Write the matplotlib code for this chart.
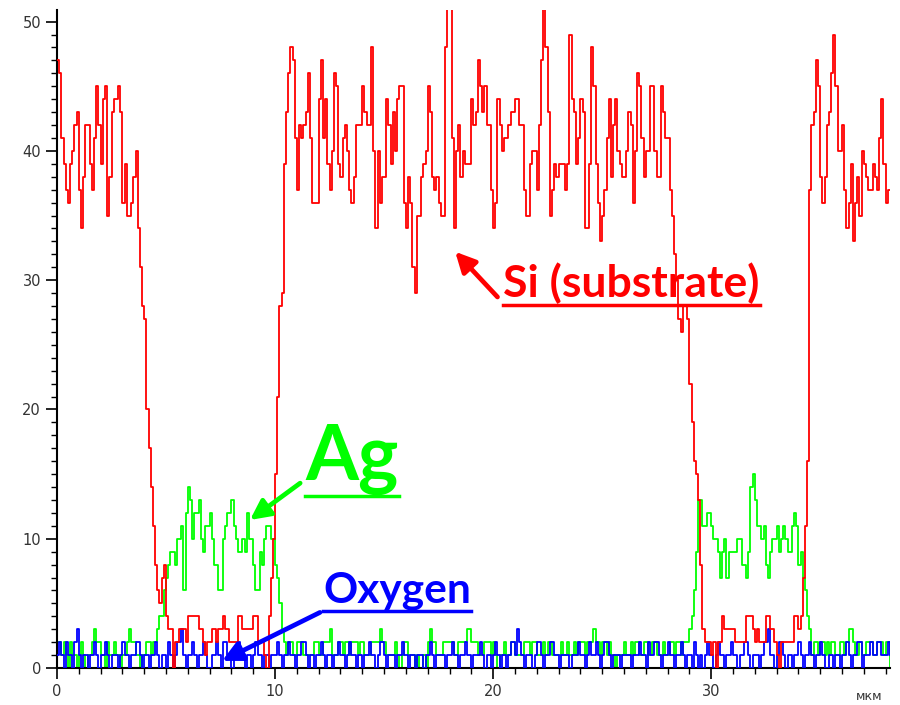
import numpy as np
import matplotlib
matplotlib.use('Agg')
import matplotlib.pyplot as plt
from matplotlib.lines import Line2D
from matplotlib.ticker import MultipleLocator

# depth step of the line scan, um
step = 0.1

# Si (substrate) signal, counts
si_vals = [
    47, 46, 41, 39, 37, 36, 39, 40, 42, 43, 37, 34, 38, 42, 42, 39, 37, 41, 45, 42,
    39, 44, 45, 35, 38, 43, 44, 44, 45, 43, 36, 39, 35, 35, 36, 38, 40, 34, 31, 28,
    27,
    20, 17, 14, 11, 8, 6, 5, 7, 8, 4, 3, 3, 0, 2, 2, 3, 3, 3, 2, 4,
    4, 4, 4, 4, 3, 3, 2, 1, 2, 2, 3, 3, 2, 3, 3, 4, 3, 3, 2, 2,
    2, 2, 4, 4, 3, 3, 3, 3, 3, 4, 4, 2, 2, 2, 1, 0, 4, 7, 10, 15,
    21,
    28, 29, 39, 43, 46, 48, 47, 41, 37, 42, 41, 42, 43, 46, 41, 36, 36, 36, 44, 47,
    41, 44, 39, 37, 40, 46, 45, 39, 38, 41, 42, 40, 37, 36, 38, 42, 42, 42, 45, 43,
    42, 42, 48, 40, 34, 40, 36, 38, 38, 44, 42, 39, 43, 40, 44, 45, 45, 36, 34, 38,
    36, 31, 29, 35, 35, 38, 39, 40, 45, 43, 38, 37, 38, 36, 35, 35, 48, 51, 51, 41,
    34, 40, 42, 38, 40, 39, 39, 39, 44, 42, 43, 47, 45, 43, 45, 42,
    42, 37, 34, 36, 44, 42, 40, 41, 41, 42, 43, 43, 44, 44, 42, 42, 37, 35, 35, 39,
    40, 40, 37, 42, 47, 51, 48, 43, 35, 37, 39, 38, 39, 39, 39, 37, 39, 49, 44, 43,
    39, 41, 44, 43, 34, 34, 39, 48, 45, 39, 36, 33, 35, 37, 41, 44, 38, 42, 44, 40,
    39, 38, 38, 40, 43, 42, 36, 40, 46, 45, 41, 38, 40, 40, 45, 45, 40, 38, 38, 45,
    43, 41, 41, 37, 35, 32, 30, 27,
    26, 28, 28, 27, 22, 19, 16, 15, 13, 8, 3,
    2, 2, 2, 1, 2, 0, 2, 2, 4, 3, 3, 3, 3, 3, 2, 2, 2, 2, 2, 4,
    4, 4, 3, 2, 3, 2, 2, 2, 4, 4, 3, 3, 2, 1, 0, 2, 2, 2, 2, 2,
    2, 4, 4, 3, 4,
    7, 11, 16, 37, 42, 43, 47, 45, 38, 36, 38, 42, 43, 46, 49, 45, 40, 40, 42, 37,
    34, 36, 39, 33, 36, 38, 35, 40, 39, 38, 37, 37, 39, 38, 37, 41, 44, 39, 36, 37,
    37,
]

# Ag signal, counts
ag_vals = [
    2, 2, 1, 2, 1, 0, 2, 1, 1, 0, 1, 2, 1, 0, 1, 1, 2, 3, 2, 2,
    1, 1, 0, 2, 1, 1, 2, 1, 1, 0, 1, 1, 2, 3, 2, 2, 1, 1, 0, 1,
    1, 2, 2, 1, 2, 2, 3,
    4, 4, 6, 7, 8, 9, 9, 8, 10, 10, 11, 6, 12, 14, 13, 10, 12, 12, 13, 10,
    9, 11, 11, 12, 10, 8, 8, 6, 6, 10, 11, 12, 12, 13, 11, 10, 9, 9, 10, 9,
    12, 10, 10, 8, 6, 6, 9, 8, 10, 11, 11, 10, 10, 8, 7, 5, 3, 2, 1, 2,
    2,
    1, 1, 2, 2, 2, 1, 1, 1, 1, 1, 2, 2, 1, 1, 2, 2, 2, 3, 1, 1,
    1, 2, 2, 1, 2, 2, 1, 2, 2, 2, 1, 2, 2, 1, 1, 1, 2, 2, 2, 2,
    3, 2, 2, 1, 1, 1, 1, 2, 1, 0, 1, 2, 2, 1, 1, 1, 0, 1, 0, 0,
    1, 0, 2, 3, 2, 2, 1, 1, 1, 2, 2, 2, 2, 2, 1, 1, 2, 2, 2, 2,
    3, 3, 2, 2, 2, 1, 1, 1, 2, 2, 2,
    1, 2, 1, 0, 1, 1, 2, 1, 1, 2, 2, 1, 1, 1, 1, 2, 2, 2, 1, 2,
    2, 1, 1, 1, 2, 1, 2, 2, 1, 1, 1, 1, 2, 1, 1, 2, 1, 1, 2, 1,
    2, 2, 2, 1, 2, 2, 2, 3, 2, 2, 1, 2, 2, 1, 2, 1, 1, 0, 1, 1,
    1, 2, 1, 1, 2, 1, 2, 2, 1, 1, 2, 2, 1, 1, 2, 2, 1, 1, 1, 2,
    1, 1, 2, 2, 1, 2, 2, 1, 2, 2,
    2, 3, 4, 6, 9, 13, 13, 11, 11, 12, 12, 11, 10, 10, 9, 7, 9, 10, 7, 9,
    9, 9, 9, 10, 10, 8, 8, 7, 9, 14, 15, 13, 11, 11, 10, 11, 8, 7, 9, 10,
    10, 11, 9, 10, 11, 10, 9, 9, 11, 12, 11, 8, 9, 7, 6, 4, 3, 1, 2,
    2, 1, 2, 2, 1, 2, 1, 2, 2, 1, 1, 2, 2, 1, 2, 3, 3, 2, 1, 1,
    2, 1, 1, 2, 2, 2, 1, 1, 2, 2, 2, 1, 2, 2, 0,
]

# Oxygen signal, counts
o_vals = [
    1, 2, 1, 0, 2, 1, 1, 0, 2, 3, 1, 0, 1, 1, 0, 1, 1, 2, 1, 0,
    1, 1, 2, 1, 0, 1, 1, 1, 0, 1, 2, 1, 1, 0, 1, 1, 2, 2, 1, 0,
    1, 1, 0, 1, 1, 2, 1, 0, 1, 1, 0, 2, 1, 0, 1, 2, 2, 3, 1, 0,
    1, 1, 2, 1, 0, 1, 1, 2, 1, 0, 0, 1, 1, 2, 1, 0, 2, 2, 1, 1,
    0, 1, 1, 2, 1, 1, 0, 1, 1, 0, 1, 2, 1, 1, 0, 1, 1, 0, 1, 1,
    1, 2, 1, 0, 1, 1, 2, 1, 1, 0, 1, 1, 2, 2, 1, 0, 1, 1, 0, 1,
    1, 2, 1, 0, 1, 1, 0, 1, 1, 2, 1, 1, 0, 1, 2, 1, 1, 0, 1, 1,
    0, 1, 1, 2, 1, 1, 0, 1, 2, 2, 1, 0, 1, 1, 1, 0, 1, 1, 2, 1,
    1, 0, 1, 1, 0, 1, 1, 1, 0, 1, 1, 2, 1, 0, 1, 1, 1, 1, 0, 1,
    1, 2, 1, 1, 0, 1, 1, 2, 1, 1, 0, 1, 1, 1, 2, 1, 0, 1, 1, 0,
    1, 2, 1, 0, 1, 1, 0, 1, 2, 2, 1, 3, 2, 1, 0, 1, 1, 1, 0, 1,
    2, 2, 1, 0, 1, 1, 2, 2, 1, 1, 0, 1, 1, 1, 1, 0, 1, 1, 1, 2,
    1, 1, 0, 1, 2, 1, 1, 2, 1, 0, 1, 2, 2, 1, 0, 1, 1, 1, 0, 1,
    1, 1, 1, 0, 1, 1, 1, 2, 1, 1, 0, 2, 1, 1, 2, 2, 1, 0, 1, 1,
    2, 1, 1, 0, 1, 1, 2, 1, 0, 1, 1, 0, 2, 1, 0, 1, 0, 1, 2, 1,
    1, 0, 1, 2, 1, 1, 0, 1, 1, 2, 1, 1, 0, 1, 1, 2, 2, 1, 0, 1,
    1, 1, 0, 1, 2, 2, 3, 1, 1, 0, 1, 2, 2, 1, 0, 1, 1, 0, 1, 1,
    2, 1, 0, 1, 1, 2, 1, 0, 1, 1, 2, 1, 0, 0, 1, 1, 0, 1, 1, 0,
    1, 1, 2, 1, 0, 1, 1, 2, 2, 0, 1, 1, 1, 2, 1, 1, 2, 2, 1, 1,
    1, 2, 1,
]

y_ticks = [0, 10, 20, 30, 40, 50]
x_ticks = [0, 10, 20, 30]

RED = '#ff0000'
GREEN = '#00ff00'
BLUE = '#0000ff'

fig = plt.figure(figsize=(9, 7.05), dpi=100)
ax = fig.add_axes([57 / 900, 37 / 705, 833 / 900, 658 / 705])

def depth(vals):
    return np.arange(len(vals)) * step

ax.step(depth(ag_vals), ag_vals, where='post', color=GREEN, lw=1.3, zorder=2)
ax.step(depth(o_vals), o_vals, where='post', color=BLUE, lw=1.3, zorder=3)
ax.step(depth(si_vals), si_vals, where='post', color=RED, lw=1.3, zorder=4)

ax.set_xlim(0, 38.2)
ax.set_ylim(0, 50.9)
ax.spines['top'].set_visible(False)
ax.spines['right'].set_visible(False)
for s in ('left', 'bottom'):
    ax.spines[s].set_linewidth(1.5)
    ax.spines[s].set_color('black')

ax.set_xticks(x_ticks)
ax.set_yticks(y_ticks)
ax.xaxis.set_minor_locator(MultipleLocator(1))
ax.yaxis.set_minor_locator(MultipleLocator(1))
ax.tick_params(which='major', length=8, width=1.2, colors='black', labelsize=10.5,
               labelcolor='#333333')
ax.tick_params(which='minor', length=4, width=1.0, colors='black')
for lab in ax.get_xticklabels() + ax.get_yticklabels():
    lab.set_fontfamily('DejaVu Sans')

# axis unit at the lower right corner
fig.text(869 / 900, 2 / 705, 'мкм', ha='center', va='bottom', fontsize=9,
         family='DejaVu Sans', color='#333333')

# labels with arrows
labels = [
    ('Si (substrate)', RED, 32, (20.46, 28.7), (20.2, 28.7), (18.26, 32.2)),
    ('Ag', GREEN, 55, (11.38, 14.55), (11.15, 14.3), (8.85, 11.45)),
    ('Oxygen', BLUE, 30.5, (12.2, 5.05), (12.06, 4.3), (7.57, 0.55)),
]
texts = []
for txt, col, size, pos, tail, tip in labels:
    t = ax.text(pos[0], pos[1], txt, color=col, fontsize=size, fontweight='bold',
                family='Lato', ha='left', va='baseline', zorder=6)
    ax.annotate('', xy=tip, xytext=tail,
                arrowprops=dict(arrowstyle='-|>', color=col, lw=3.4,
                                mutation_scale=30, shrinkA=0, shrinkB=0),
                zorder=6)
    texts.append((t, col))

fig.canvas.draw()
renderer = fig.canvas.get_renderer()
inv = fig.transFigure.inverted()
for t, col in texts:
    bb = t.get_window_extent(renderer)
    (x0, y0), (x1, _) = inv.transform([(bb.x0, bb.y0 - 1), (bb.x1, bb.y0 - 1)])
    fig.add_artist(Line2D([x0, x1], [y0, y0], color=col, lw=2.5,
                          transform=fig.transFigure))

fig.savefig('out.png', dpi=100)
